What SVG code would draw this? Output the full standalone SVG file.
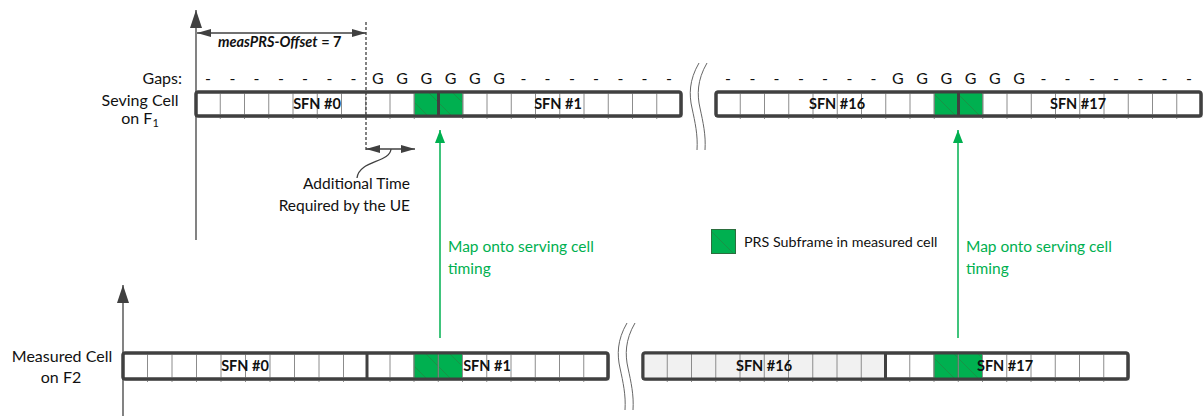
<svg xmlns="http://www.w3.org/2000/svg" width="1203" height="416" viewBox="0 0 1203 416">
<style>
text{font-family:Lato,"Liberation Sans",sans-serif;font-size:16px;fill:#111}
.b{font-weight:bold;font-size:14.5px}
.g{fill:#00b050;font-size:15.5px}
.m{font-size:15.5px}
.lg{font-size:14.3px}
.box{fill:#fff;stroke:#404040;stroke-width:3}
.div{fill:none;stroke:#8c8c8c;stroke-width:1}
.sep{stroke:#404040;stroke-width:3}
.prs{fill:url(#hatch);stroke:#2b6e3e;stroke-width:1}
.dk{fill:none;stroke:#404040;stroke-width:1.3}
.gr{fill:none;stroke:#00b050;stroke-width:1.5}
.sq{fill:none;stroke:#666;stroke-width:1}
.sh{fill:#d9d9d9}
</style>
<defs>
<pattern id="hatch" patternUnits="userSpaceOnUse" width="24" height="24">
<rect width="24" height="24" fill="#00b050"/>
<path d="M0,0 L24,24" stroke="#1f8a45" stroke-width="0.8"/>
</pattern>
<marker id="ad" markerUnits="userSpaceOnUse" markerWidth="14" markerHeight="8" refX="14" refY="4" orient="auto-start-reverse">
<path d="M0,0 L14,4 L0,8 z" fill="#404040"/>
</marker>
<marker id="ax" markerUnits="userSpaceOnUse" markerWidth="18" markerHeight="12" refX="18" refY="6" orient="auto">
<path d="M0,0 L18,6 L0,12 z" fill="#404040"/>
</marker>
<marker id="ag" markerUnits="userSpaceOnUse" markerWidth="13" markerHeight="10" refX="13" refY="5" orient="auto">
<path d="M0,0 L13,5 L0,10 z" fill="#00b050"/>
</marker>
</defs>

<!-- axes -->
<g id="axes">
<line class="dk" x1="196" y1="240" x2="196" y2="10" marker-end="url(#ax)"/>
<line class="dk" x1="123" y1="416" x2="123" y2="285" marker-end="url(#ax)"/>
</g>

<!-- row labels -->
<g id="labels">
<text x="182" y="84" text-anchor="end">Gaps:</text>
<text x="140" y="106" text-anchor="middle">Seving Cell</text>
<text x="140" y="124" text-anchor="middle">on F<tspan font-size="11" dy="3">1</tspan></text>
<text x="62" y="362" text-anchor="middle">Measured Cell</text>
<text x="61" y="383" text-anchor="middle">on F2</text>
</g>

<!-- gaps -->
<g id="gaps">
<text text-anchor="middle" x="208.1 232.4 256.6 280.9 305.1 329.4 353.6 377.9 402.1 426.4 450.6 474.9 499.1 523.4 547.6 571.9 596.1 620.4 644.6 668.9" y="84">-------GGGGGG-------</text>
<text text-anchor="middle" x="728.1 752.4 776.6 800.9 825.1 849.4 873.6 897.9 922.1 946.4 970.6 994.9 1019.1 1043.4 1067.6 1091.9 1116.1 1140.4 1164.6 1188.9" y="84">-------GGGGGG-------</text>
</g>

<!-- serving cell rows -->
<g id="serving-left">
<rect class="sh" x="198" y="94" width="485" height="24" rx="2"/>
<rect class="box" x="196" y="92" width="485" height="24" rx="2"/>
<rect class="prs" x="414.25" y="92" width="24.25" height="24"/>
<rect class="prs" x="438.5" y="92" width="24.25" height="24"/>
<path class="div" d="M220.25,92v27M244.5,92v27M268.75,92v27M293,92v27M317.25,92v27M341.5,92v27M365.75,92v27M390,92v27M414.25,92v27M462.75,92v27M487,92v27M511.25,92v27M535.5,92v27M559.75,92v27M584,92v27M608.25,92v27M632.5,92v27M656.75,92v27"/>
<rect class="box" style="fill:none" x="196" y="92" width="485" height="24" rx="2"/>
<line class="sep" x1="438.5" y1="92" x2="438.5" y2="116"/>
<text class="b" x="317" y="109" text-anchor="middle">SFN #0</text>
<text class="b" x="558" y="109" text-anchor="middle">SFN #1</text>
</g>

<g id="serving-right">
<rect class="sh" x="718" y="94" width="485" height="24" rx="2"/>
<rect class="box" x="716" y="92" width="485" height="24" rx="2"/>
<rect class="prs" x="934.25" y="92" width="24.25" height="24"/>
<rect class="prs" x="958.5" y="92" width="24.25" height="24"/>
<path class="div" d="M740.25,92v27M764.5,92v27M788.75,92v27M813,92v27M837.25,92v27M861.5,92v27M885.75,92v27M910,92v27M934.25,92v27M982.75,92v27M1007,92v27M1031.25,92v27M1055.5,92v27M1079.75,92v27M1104,92v27M1128.25,92v27M1152.5,92v27M1176.75,92v27"/>
<rect class="box" style="fill:none" x="716" y="92" width="485" height="24" rx="2"/>
<line class="sep" x1="958.5" y1="92" x2="958.5" y2="116"/>
<text class="b" x="837" y="109" text-anchor="middle">SFN #16</text>
<text class="b" x="1078" y="109" text-anchor="middle">SFN #17</text>
</g>

<!-- measured cell rows -->
<g id="measured-left">
<rect class="sh" x="125" y="355" width="485" height="26" rx="2"/>
<rect class="box" x="123" y="353" width="485" height="26" rx="2"/>
<rect class="prs" x="414" y="353" width="24.25" height="26"/>
<rect class="prs" x="438.25" y="353" width="24.25" height="26"/>
<path class="div" d="M147.5,353v29M172,353v29M196.5,353v29M221,353v29M245.5,353v29M270,353v29M294.5,353v29M319,353v29M343.5,353v29M390,353v29M414,353v29M438.25,353v29M462.5,353v29M486.75,353v29M511,353v29M535.25,353v29M559.5,353v29M583.75,353v29"/>
<rect class="box" style="fill:none" x="123" y="353" width="485" height="26" rx="2"/>
<line class="sep" x1="367" y1="353" x2="367" y2="379"/>
<text class="b" x="245" y="371" text-anchor="middle">SFN #0</text>
<text class="b" x="487" y="371" text-anchor="middle">SFN #1</text>
</g>

<g id="measured-right">
<rect class="sh" x="645" y="355" width="485" height="26" rx="2"/>
<rect class="box" x="643" y="353" width="485" height="26" rx="2"/>
<rect x="643" y="353" width="242.5" height="26" fill="#f1f1f1"/>
<rect class="prs" x="934" y="353" width="24.25" height="26"/>
<rect class="prs" x="958.25" y="353" width="24.25" height="26"/>
<path class="div" d="M667.25,353v29M691.5,353v29M715.75,353v29M740,353v29M764.25,353v29M788.5,353v29M812.75,353v29M837,353v29M861.25,353v29M909.75,353v29M934,353v29M958.25,353v29M982.5,353v29M1006.75,353v29M1031,353v29M1055.25,353v29M1079.5,353v29M1103.75,353v29"/>
<rect class="box" style="fill:none" x="643" y="353" width="485" height="26" rx="2"/>
<line class="sep" x1="885.5" y1="353" x2="885.5" y2="379"/>
<text class="b" x="764" y="371" text-anchor="middle">SFN #16</text>
<text class="b" x="1005" y="371" text-anchor="middle">SFN #17</text>
</g>

<!-- break marks -->
<g id="breaks">
<path class="sq" d="M699,63 C689,80 689,95 692,108 C695,122 698,135 697,150"/>
<path class="sq" d="M707,63 C697,80 697,95 700,108 C703,122 706,135 705,150"/>
<path class="sq" d="M627,323 C617,340 617,355 620,368 C623,382 626,395 625,410"/>
<path class="sq" d="M635,323 C625,340 625,355 628,368 C631,382 634,395 633,410"/>
</g>

<!-- offset annotation -->
<g id="offset">
<line class="dk" x1="366" y1="22" x2="366" y2="152" stroke-dasharray="3,2" stroke-width="1"/>
<line class="dk" x1="197" y1="33" x2="366" y2="33" marker-start="url(#ad)" marker-end="url(#ad)"/>
<text class="b" x="218" y="47"><tspan font-style="italic">measPRS-Offset</tspan> = 7</text>
</g>

<g id="additional-time">
<line class="dk" x1="366" y1="149" x2="415" y2="149" marker-start="url(#ad)" marker-end="url(#ad)"/>
<path class="dk" stroke-width="1" d="M391,149 C390,163 359,160 357,178"/>
<text class="m" x="410" y="189" text-anchor="end">Additional Time</text>
<text class="m" x="410" y="211" text-anchor="end">Required by the UE</text>
</g>

<!-- connectors -->
<g id="connectors">
<line class="gr" x1="440" y1="338" x2="440" y2="130" marker-end="url(#ag)"/>
<line class="gr" x1="958" y1="338" x2="958" y2="130" marker-end="url(#ag)"/>
<text class="g" x="448" y="252">Map onto serving cell</text>
<text class="g" x="448" y="274">timing</text>
<text class="g" x="966" y="252">Map onto serving cell</text>
<text class="g" x="966" y="274">timing</text>
</g>

<!-- legend -->
<g id="legend">
<rect class="prs" x="711.5" y="229.5" width="24" height="24"/>
<text class="lg" x="744" y="247">PRS Subframe in measured cell</text>
</g>
</svg>
